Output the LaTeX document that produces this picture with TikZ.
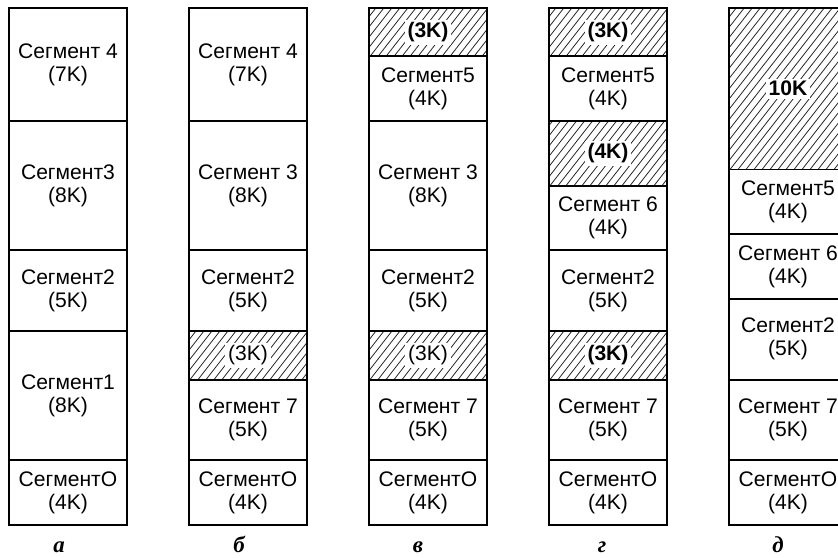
\documentclass[tikz,border=0pt]{standalone}
\usepackage{fontspec}
\setmainfont{Liberation Sans}
\newfontfamily\capfont{Liberation Serif}
\usepackage{tikz}
\newcommand{\segfont}{\fontsize{12}{13.1}\selectfont}

\begin{document}
\begin{tikzpicture}[x=1cm, y=0.3232cm,
  seg/.style={draw, line width=1.1pt, anchor=south west, minimum width=2.36cm, inner sep=0pt, outer sep=0pt, align=center, font=\segfont},
  hatchline/.style={line width=0.45pt, black!85},
  hole/.style={seg, path picture={
    \foreach \k in {0,...,34}
      \draw[hatchline] ([xshift=\k*0.16cm-2.7cm]path picture bounding box.south west) -- ++(52:5cm);}},
  holetext/.style={fill=white, inner sep=1.5pt, font=\segfont},
  colname/.style={anchor=base, inner sep=0pt, font=\capfont\fontsize{13}{14}\selectfont\bfseries\itshape}
]
\useasboundingbox (0,-1.98) rectangle (16.76,32.49);

% Column a
\foreach \y/\h/\t [count=\i] in {0/4/{СегментO\\(4K)}, 4/8/{Сегмент1\\(8K)}, 12/5/{Сегмент2\\(5K)}, 17/8/{Сегмент3\\(8K)}, 25/7/{Сегмент 4\\(7K)}}
  \node[seg, minimum height=\h*0.3232cm] (a\i) at (0.18,\y) {\t};

% Column b
\node[hole, minimum height=3*0.3232cm] (bh1) at (3.78,9) {};
\node[holetext] (bh1t) at (bh1) {(3K)};
\foreach \y/\h/\t [count=\i] in {0/4/{СегментO\\(4K)}, 4/5/{Сегмент 7\\(5K)}, 12/5/{Сегмент2\\(5K)}, 17/8/{Сегмент 3\\(8K)}, 25/7/{Сегмент 4\\(7K)}}
  \node[seg, minimum height=\h*0.3232cm] (b\i) at (3.78,\y) {\t};

% Column v
\node[hole, minimum height=3*0.3232cm] (vh1) at (7.38,9) {};
\node[holetext] (vh1t) at (vh1) {(3K)};
\node[hole, minimum height=3*0.3232cm] (vh2) at (7.38,29) {};
\node[holetext, font=\segfont\bfseries] (vh2t) at (vh2) {(3K)};
\foreach \y/\h/\t [count=\i] in {0/4/{СегментO\\(4K)}, 4/5/{Сегмент 7\\(5K)}, 12/5/{Сегмент2\\(5K)}, 17/8/{Сегмент 3\\(8K)}, 25/4/{Сегмент5\\(4K)}}
  \node[seg, minimum height=\h*0.3232cm] (v\i) at (7.38,\y) {\t};

% Column g
\foreach \y/\h/\n in {9/3/1, 21/4/2, 29/3/3}
  \node[hole, minimum height=\h*0.3232cm] (gh\n) at (10.98,\y) {};
\node[holetext, font=\segfont\bfseries] (gh1t) at (gh1) {(3K)};
\node[holetext, font=\segfont\bfseries] (gh2t) at (gh2) {(4K)};
\node[holetext, font=\segfont\bfseries] (gh3t) at (gh3) {(3K)};
\foreach \y/\h/\t [count=\i] in {0/4/{СегментO\\(4K)}, 4/5/{Сегмент 7\\(5K)}, 12/5/{Сегмент2\\(5K)}, 17/4/{Сегмент 6\\(4K)}, 25/4/{Сегмент5\\(4K)}}
  \node[seg, minimum height=\h*0.3232cm] (g\i) at (10.98,\y) {\t};

% Column d
\node[hole, minimum height=10*0.3232cm] (dh1) at (14.58,22) {};
\node[holetext, font=\segfont\bfseries] (dh1t) at (dh1) {10K};
\foreach \y/\h/\t [count=\i] in {0/4/{СегментO\\(4K)}, 4/5/{Сегмент 7\\(5K)}, 9/5/{Сегмент2\\(5K)}, 14/4/{Сегмент 6\\(4K)}, 18/4/{Сегмент5\\(4K)}}
  \node[seg, minimum height=\h*0.3232cm] (d\i) at (14.58,\y) {\t};

% Captions
\node[colname] (cap-a) at (1.18,-1.67) {а};
\node[colname] (cap-b) at (4.78,-1.67) {б};
\node[colname] (cap-v) at (8.36,-1.67) {в};
\node[colname] (cap-g) at (12.04,-1.67) {г};
\node[colname] (cap-d) at (15.56,-1.67) {д};
\end{tikzpicture}
\end{document}
